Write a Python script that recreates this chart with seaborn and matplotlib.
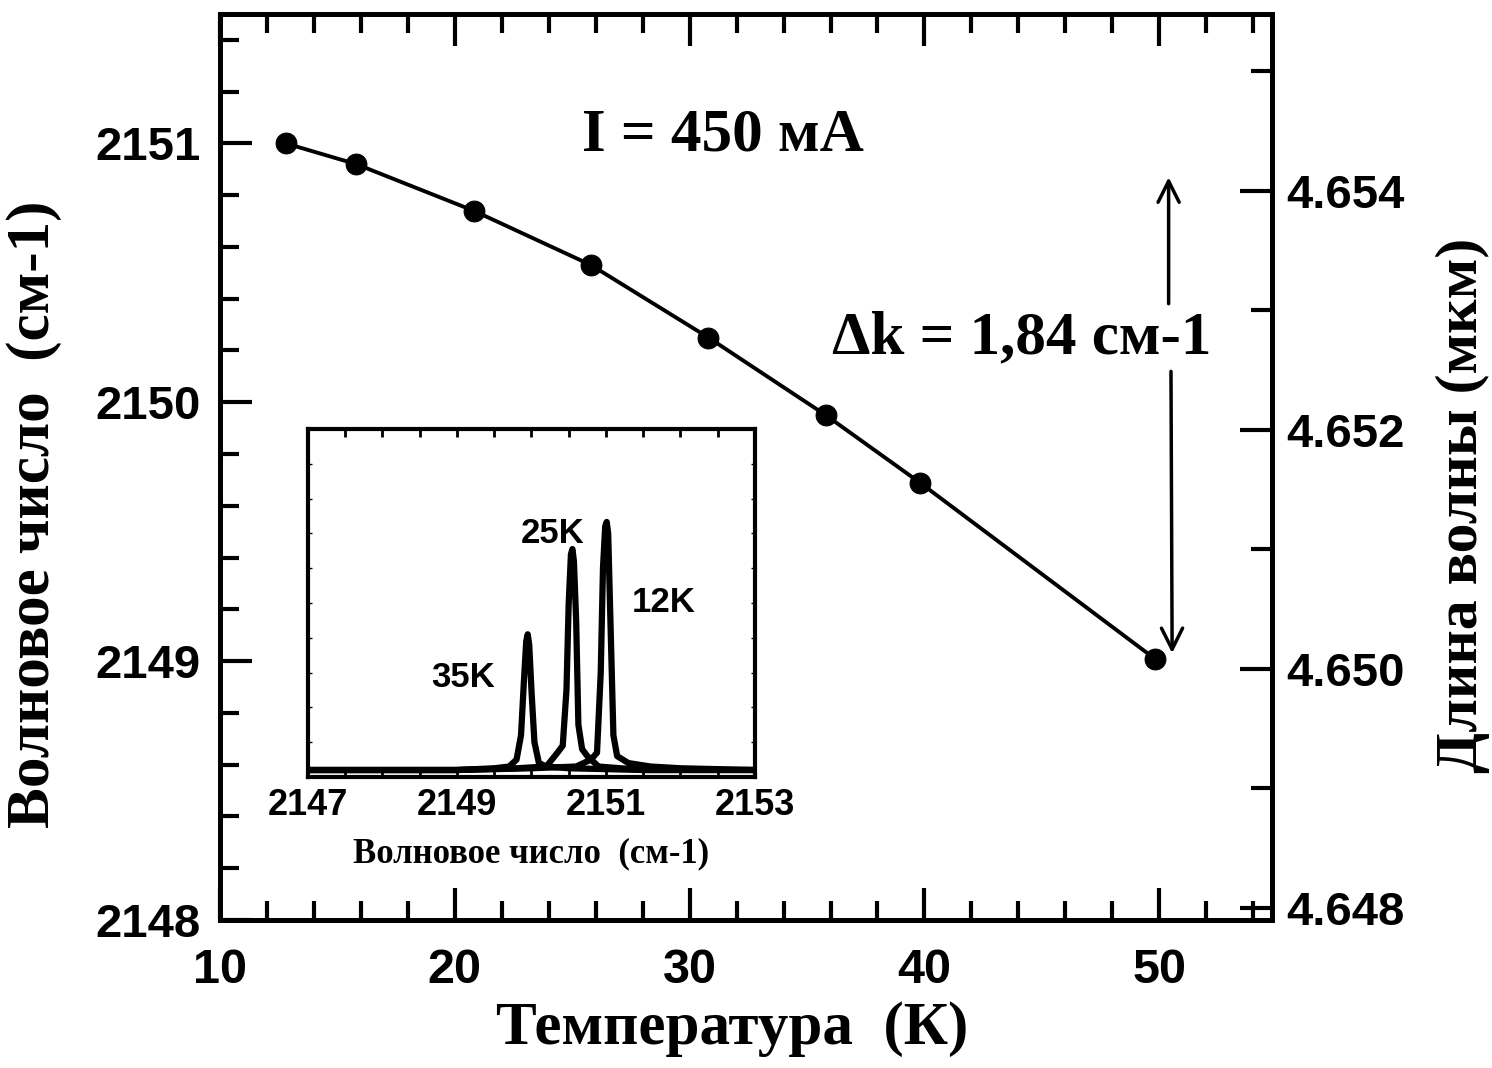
import numpy as np
import pandas as pd
import matplotlib
matplotlib.use("Agg")
import matplotlib.pyplot as plt
from matplotlib.ticker import MultipleLocator
import seaborn as sns

# ---------------- data ----------------
temperature = [12.8, 15.8, 20.8, 25.8, 30.8, 35.8, 39.8, 49.8]
wavenumber = [2151.00, 2150.92, 2150.74, 2150.53, 2150.25, 2149.95, 2149.69, 2149.01]

# inset spectra
spec35_x = [2147.0, 2148.0, 2149.0, 2149.5, 2149.7, 2149.8, 2149.86, 2149.9, 2149.93, 2149.95,
            2149.97, 2150.0, 2150.04, 2150.1, 2150.2, 2150.5, 2151.5, 2153.0]
spec35_y = [0.02, 0.02, 0.02, 0.025, 0.03, 0.05, 0.12, 0.28, 0.39, 0.41,
            0.38, 0.25, 0.10, 0.04, 0.03, 0.025, 0.02, 0.02]
spec25_x = [2147.0, 2149.0, 2149.8, 2150.2, 2150.35, 2150.42, 2150.47, 2150.5, 2150.53, 2150.55,
            2150.57, 2150.6, 2150.63, 2150.68, 2150.75, 2150.9, 2151.5, 2153.0]
spec25_y = [0.02, 0.02, 0.025, 0.03, 0.07, 0.09, 0.25, 0.5, 0.64, 0.655,
            0.62, 0.45, 0.15, 0.08, 0.06, 0.03, 0.02, 0.02]
spec12_x = [2147.0, 2149.0, 2150.0, 2150.6, 2150.8, 2150.88, 2150.93, 2150.96, 2150.99, 2151.01,
            2151.03, 2151.06, 2151.1, 2151.15, 2151.3, 2151.6, 2152.0, 2153.0]
spec12_y = [0.02, 0.02, 0.025, 0.03, 0.05, 0.07, 0.3, 0.6, 0.72, 0.733,
            0.70, 0.45, 0.12, 0.06, 0.04, 0.03, 0.025, 0.02]

main_xticks = [10, 20, 30, 40, 50]
left_yticks = [2148, 2149, 2150, 2151]
right_yticks = [4.648, 4.650, 4.652, 4.654]
inset_xticks = [2147, 2149, 2151, 2153]

# ---------------- style ----------------
sns.set_style("ticks")
plt.rcParams['font.family'] = ['Liberation Sans', 'DejaVu Sans']
for k in ["text.color", "axes.edgecolor", "xtick.color", "ytick.color", "axes.labelcolor"]:
    plt.rcParams[k] = "black"
SERIF = ['Liberation Serif', 'DejaVu Serif']
SANS = ['Liberation Sans', 'DejaVu Sans']

fig = plt.figure(figsize=(14.92, 10.68), dpi=100)
ax = fig.add_axes([0.1475, 0.1386, 0.705, 0.8483])

df = pd.DataFrame({"T": temperature, "k": wavenumber})
sns.lineplot(data=df, x="T", y="k", ax=ax, color="black", linewidth=2.8,
             marker="o", markersize=15, markeredgecolor="black", markerfacecolor="black")

ax.set_xlim(10, 54.8)
ax.set_ylim(2148, 2151.5)
ax.set_xticks(main_xticks)
ax.set_yticks(left_yticks)
ax.xaxis.set_minor_locator(MultipleLocator(2))
ax.yaxis.set_minor_locator(MultipleLocator(0.2))
ax.tick_params(which="major", direction="in", length=23, width=3, top=True, right=False,
               labelsize=34, pad=14)
ax.tick_params(which="minor", direction="in", length=14, width=3, top=True, right=False)
ax.tick_params(axis="x", which="major", pad=20, labelsize=35)
for lab in ax.get_xticklabels() + ax.get_yticklabels():
    lab.set_fontweight("bold")
    lab.set_family(SANS)
for s in ax.spines.values():
    s.set_linewidth(3.5)
    s.set_visible(True)

ax.set_xlabel("Температура  (К)", fontsize=44, fontweight="bold", family=SERIF)
ax.set_ylabel("Волновое число  (см-1)", fontsize=44, fontweight="bold", family=SERIF)
ax.xaxis.set_label_coords(0.487, -0.089)
ax.yaxis.set_label_coords(-0.150, 0.448)

ax.text(31.4, 2151.03, "I = 450 мА", fontsize=44, fontweight="bold", family=SERIF,
        ha="center", va="center")
ax.text(44.15, 2150.245, "Δk = 1,84 см-1", fontsize=44, fontweight="bold", family=SERIF,
        ha="center", va="center")

ax.annotate("", xy=(50.4, 2150.88), xytext=(50.4, 2150.37),
            arrowprops=dict(arrowstyle="->", color="black", lw=2.5, mutation_scale=38))
ax.annotate("", xy=(50.55, 2149.02), xytext=(50.5, 2150.13),
            arrowprops=dict(arrowstyle="->", color="black", lw=2.5, mutation_scale=38))

# right axis
ax2 = ax.twinx()
ax2.set_ylim(4.6479, 4.65548)
ax2.set_yticks(right_yticks)
ax2.set_yticklabels([f"{v:.3f}" for v in right_yticks])
ax2.yaxis.set_minor_locator(MultipleLocator(0.001))
ax2.tick_params(which="major", direction="in", length=23, width=3, labelsize=34, pad=10)
ax2.tick_params(which="minor", direction="in", length=15, width=3)
for lab in ax2.get_yticklabels():
    lab.set_fontweight("bold")
    lab.set_family(SANS)
ax2.set_ylabel("Длина волны (мкм)", fontsize=43, fontweight="bold", family=SERIF, rotation=90)
ax2.yaxis.set_label_coords(1.156, 0.458)
for s in ax2.spines.values():
    s.set_linewidth(3.5)

# inset
axi = fig.add_axes([0.2064, 0.2725, 0.2996, 0.3258])
for sx, sy in [(spec35_x, spec35_y), (spec25_x, spec25_y), (spec12_x, spec12_y)]:
    sns.lineplot(x=sx, y=sy, ax=axi, color="black", linewidth=4.5, sort=False)
axi.set_xlim(2147, 2153)
axi.set_ylim(0, 1)
axi.set_xticks(inset_xticks)
axi.xaxis.set_minor_locator(MultipleLocator(0.5))
axi.set_yticks([])
axi.yaxis.set_minor_locator(MultipleLocator(0.1))
axi.tick_params(which="both", direction="in", top=True, right=True, width=2)
axi.tick_params(which="major", length=6, labelsize=26, pad=8)
axi.tick_params(which="minor", length=6)
axi.tick_params(axis="y", which="minor", length=3, width=1)
for lab in axi.get_xticklabels():
    lab.set_fontweight("bold")
    lab.set_family(SANS)
for s in axi.spines.values():
    s.set_linewidth(3)
    s.set_visible(True)
axi.set_xlabel("Волновое число  (см-1)", fontsize=25, fontweight="bold", family=SERIF, labelpad=10)
axi.set_ylabel("")
axi.text(2149.08, 0.287, "35K", fontsize=25, fontweight="bold", family=SANS, ha="center", va="center")
axi.text(2150.29, 0.70, "25K", fontsize=25, fontweight="bold", family=SANS, ha="center", va="center")
axi.text(2151.78, 0.50, "12K", fontsize=25, fontweight="bold", family=SANS, ha="center", va="center")

fig.savefig("out.png", dpi=100)
